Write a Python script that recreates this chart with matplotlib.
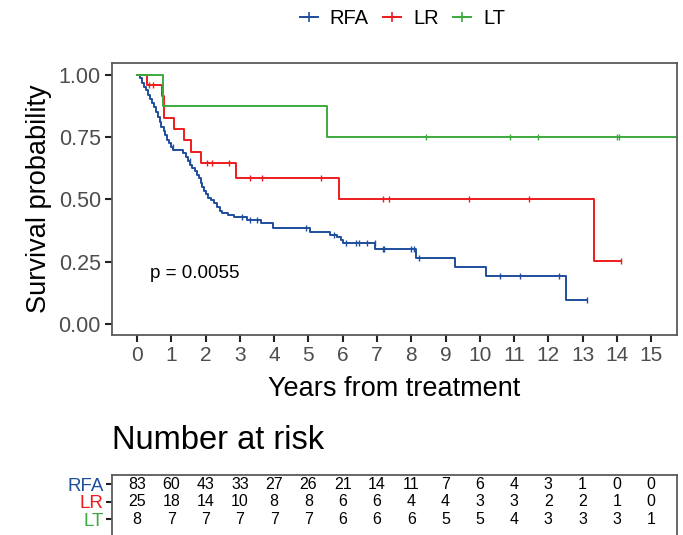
import numpy as np
import matplotlib.pyplot as plt
from matplotlib.lines import Line2D

# Datos
grupos = ["RFA", "LR", "LT"]
colores = ["#1F4E9C", "#EE1C1C", "#3DAA3D"]

rfa_t = [0, 0.10, 0.15, 0.19, 0.25, 0.32, 0.39, 0.45, 0.49, 0.54, 0.61, 0.66, 0.71,
         0.78, 0.83, 0.87, 0.93, 0.98, 1.05, 1.35, 1.42, 1.49, 1.55, 1.61, 1.68,
         1.74, 1.80, 1.86, 1.91, 1.96, 2.02, 2.08, 2.16, 2.24, 2.34, 2.42, 2.47,
         2.64, 2.82, 3.20, 3.62, 3.98, 5.06, 5.62, 5.83, 5.96, 6.01, 6.95, 8.15,
         9.28, 10.17, 12.52, 13.12]
rfa_s = [1.0, 0.987, 0.969, 0.953, 0.940, 0.920, 0.902, 0.886, 0.870, 0.853, 0.833,
         0.812, 0.792, 0.776, 0.759, 0.739, 0.726, 0.712, 0.699, 0.686, 0.672, 0.655,
         0.640, 0.628, 0.614, 0.600, 0.585, 0.566, 0.551, 0.535, 0.520, 0.506, 0.496,
         0.485, 0.470, 0.455, 0.445, 0.438, 0.428, 0.418, 0.405, 0.385, 0.369, 0.357,
         0.347, 0.335, 0.324, 0.300, 0.266, 0.228, 0.190, 0.094, 0.094]
rfa_cens = [1.04, 1.54, 3.05, 3.29, 3.49, 4.94, 5.74, 6.09, 6.40, 6.48, 6.72, 6.93,
            7.17, 7.21, 8.00, 8.07, 8.24, 10.60, 11.16, 12.32, 13.12]

lr_t = [0, 0.28, 0.74, 0.80, 1.09, 1.38, 1.56, 1.86, 2.88, 5.89, 13.34, 14.12]
lr_s = [1.0, 0.960, 0.916, 0.829, 0.783, 0.737, 0.691, 0.645, 0.586, 0.502, 0.251, 0.251]
lr_cens = [0.36, 0.47, 2.05, 2.18, 2.68, 3.29, 3.65, 5.38, 7.18, 7.35, 9.69, 11.45, 14.12]

lt_t = [0, 0.76, 5.53, 15.73]
lt_s = [1.0, 0.875, 0.75, 0.75]
lt_cens = [8.42, 10.87, 11.71, 13.99, 14.07]

anios = list(range(16))
riesgo_rfa = [83, 60, 43, 33, 27, 26, 21, 14, 11, 7, 6, 4, 3, 1, 0, 0]
riesgo_lr = [25, 18, 14, 10, 8, 8, 6, 6, 4, 4, 3, 3, 2, 2, 1, 0]
riesgo_lt = [8, 7, 7, 7, 7, 7, 6, 6, 6, 5, 5, 4, 3, 3, 3, 1]

plt.rcParams['font.family'] = ['Liberation Sans', 'DejaVu Sans']
borde = "#5A5A5A"
gris = "#4D4D4D"

fig = plt.figure(figsize=(6.83, 5.35), dpi=100)
ax = fig.add_axes([0.164, 0.374, 0.827, 0.508])

curvas = [(rfa_t, rfa_s, rfa_cens), (lr_t, lr_s, lr_cens), (lt_t, lt_s, lt_cens)]
for (t, s, c), col in zip(curvas, colores):
    ax.step(t, s, where="post", color=col, lw=1.4)
    t = np.array(t)
    s = np.array(s)
    idx = np.searchsorted(t, c, side="right") - 1
    ax.plot(c, s[idx], ls="none", marker="|", ms=5, mew=1.0, color=col)

ax.text(0.38, 0.20, "p = 0.0055", fontsize=13.5, va="center", ha="left")

ax.set_xlim(-0.73, 15.75)
ax.set_ylim(-0.045, 1.048)
ax.set_xticks(anios)
ax.set_xticklabels([str(a) for a in anios], fontsize=15, color=gris)
ax.set_yticks([0, 0.25, 0.5, 0.75, 1.0])
ax.set_yticklabels(["0.00", "0.25", "0.50", "0.75", "1.00"], fontsize=15.5, color=gris)
ax.tick_params(length=5, width=1.5, color="#222222", pad=3)
for sp in ax.spines.values():
    sp.set_color(borde)
    sp.set_linewidth(1.3)
ax.set_xlabel("Years from treatment", fontsize=19.5, labelpad=8)
ax.set_ylabel("Survival probability", fontsize=19.5, labelpad=5)

# Leyenda
handles = [Line2D([], [], color=c, lw=1.4, marker="+", ms=7, mew=1.2) for c in colores]
fig.legend(handles, grupos, loc="center", bbox_to_anchor=(0.589, 0.965), ncol=3,
           frameon=False, fontsize=14.5, handlelength=0.9, handletextpad=0.6,
           columnspacing=0.7)

# Tabla de pacientes en riesgo
fig.text(0.164, 0.177, "Number at risk", fontsize=23.5, va="center", ha="left")
axt = fig.add_axes([0.164, -0.019, 0.827, 0.131])
axt.set_xlim(-0.73, 15.75)
axt.set_ylim(-0.49, 3.51)
filas = [riesgo_rfa, riesgo_lr, riesgo_lt]
for i, fila in enumerate(filas):
    for a, n in zip(anios, fila):
        axt.text(a, 3 - i, str(n), ha="center", va="center", fontsize=11.5)
axt.set_xticks([])
axt.set_yticks([3, 2, 1])
axt.set_yticklabels(grupos, fontsize=13.5)
for lab, col in zip(axt.get_yticklabels(), colores):
    lab.set_color(col)
axt.tick_params(axis="y", length=4, width=1.5, color="#222222", pad=2)
for sp in axt.spines.values():
    sp.set_color(borde)
    sp.set_linewidth(1.3)

fig.savefig("out.png", dpi=100)
